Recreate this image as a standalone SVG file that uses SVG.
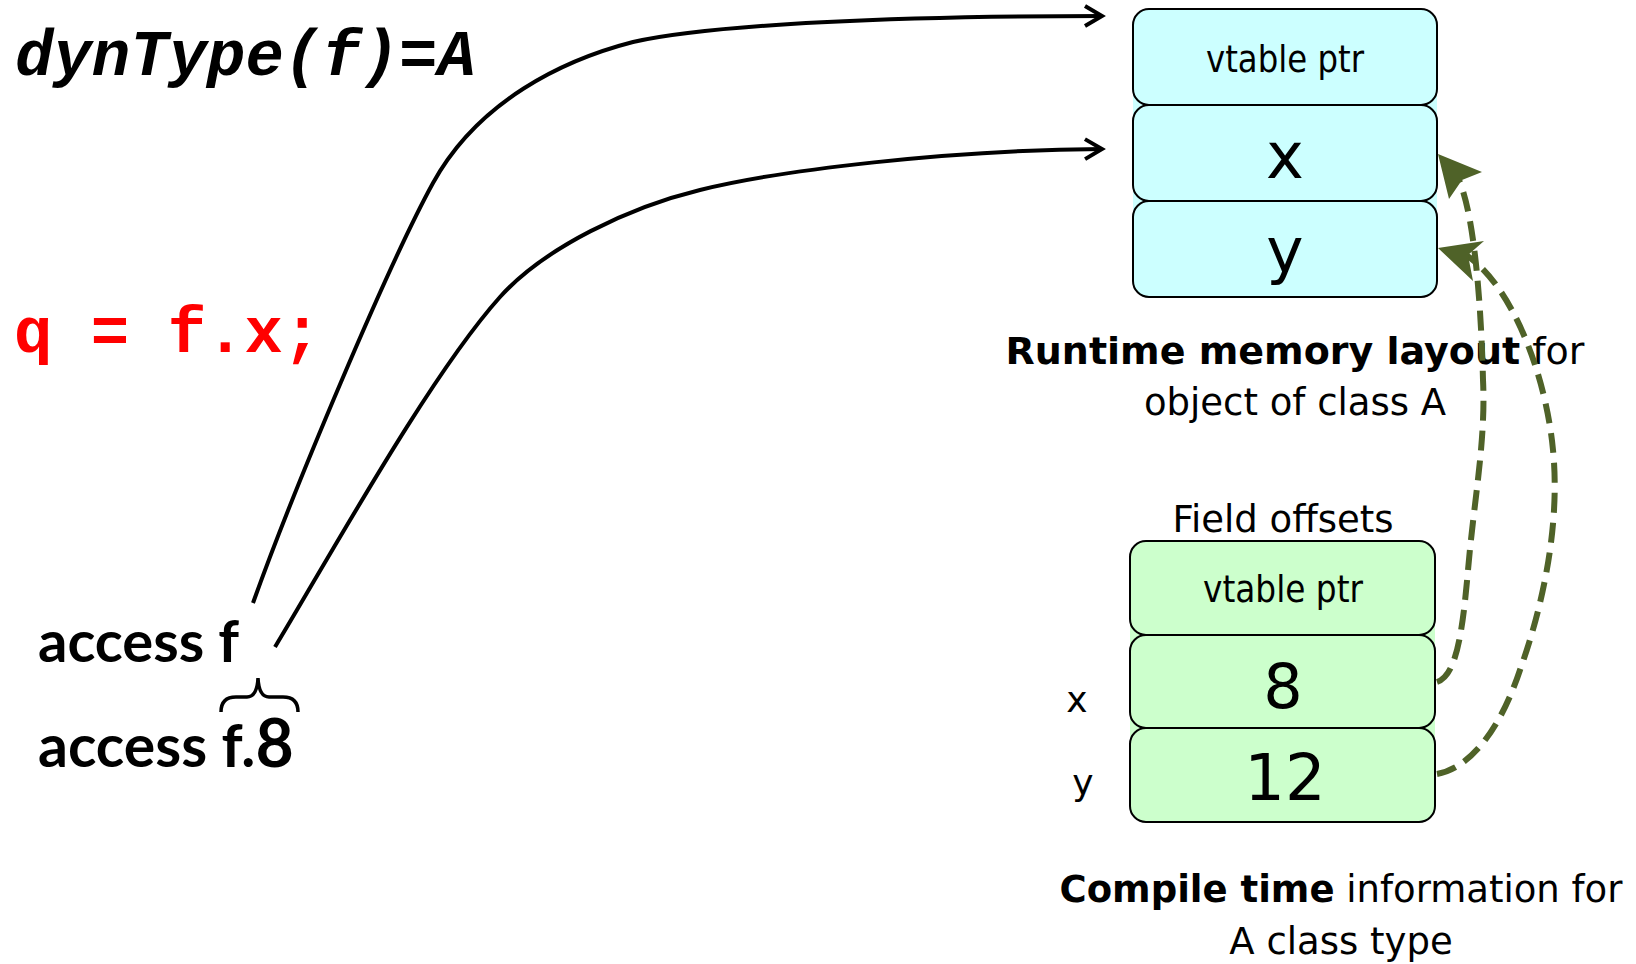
<svg xmlns="http://www.w3.org/2000/svg" width="1636" height="964" viewBox="0 0 1636 964">
  <style>
    .mono { font-family: "Liberation Mono", "Courier New", monospace; font-weight: bold; }
    .sans { font-family: "DejaVu Sans", "Verdana", sans-serif; fill: #000; }
    .narrow { font-family: "DejaVu Sans Condensed", "DejaVu Sans", sans-serif; font-stretch: condensed; fill: #000; }
    .cal { font-family: "Lato", "Open Sans", sans-serif; font-weight: bold; fill: #000; }
    .row-rt { fill: #CCFFFF; stroke: #000; stroke-width: 2; }
    .row-ct { fill: #CCFFCC; stroke: #000; stroke-width: 2; }
    .bg-rt { fill: #CCFFFF; stroke: none; }
    .bg-ct { fill: #CCFFCC; stroke: none; }
    .ptr { fill: none; stroke: #000; stroke-width: 4; marker-end: url(#open-arrow); }
    .offs { fill: none; stroke: #4F6228; stroke-width: 6; stroke-dasharray: 20 10; }
    .ohead { fill: #4F6228; stroke: none; }
  </style>
  <defs>
    <marker id="open-arrow" markerUnits="userSpaceOnUse" markerWidth="24" markerHeight="24" refX="0" refY="0" orient="auto" overflow="visible">
      <path d="M-17,-10 L0,0 L-17,10" fill="none" stroke="#000" stroke-width="4" stroke-linejoin="miter"/>
    </marker>
  </defs>

  <rect width="1636" height="964" fill="#FFFFFF"/>

  <g id="label-dyntype">
    <text class="mono" x="15" y="75" font-size="64" font-style="italic" fill="#000">dynType(f)=A</text>
  </g>
  <g id="label-code">
    <text class="mono" x="14" y="352" font-size="64" fill="#FF0000">q = f.x;</text>
  </g>

  <g id="access-f">
    <text class="cal" x="38" y="662" font-size="58">access f</text>
  </g>
  <g id="access-f8">
    <text class="cal" x="38" y="767" font-size="59">access f.<tspan font-size="66">8</tspan></text>
  </g>
  <g id="brace">
    <path d="M221,712 Q221,697 236,697 L247,697 Q257,697 258,678 Q259,697 269,697 L283,697 Q298,697 298,712" fill="none" stroke="#000" stroke-width="3.5"/>
  </g>

  <g id="runtime-layout">
    <rect class="bg-rt" x="1133" y="25" width="304" height="256"/>
    <g id="rt-vtable">
      <rect class="row-rt" x="1133" y="9" width="304" height="96" rx="16"/>
      <text class="narrow" x="1285" y="72" font-size="38" text-anchor="middle" textLength="158" lengthAdjust="spacingAndGlyphs">vtable ptr</text>
    </g>
    <g id="rt-x">
      <rect class="row-rt" x="1133" y="105" width="304" height="96" rx="16"/>
      <text class="sans" x="1285" y="178" font-size="64" text-anchor="middle">x</text>
    </g>
    <g id="rt-y">
      <rect class="row-rt" x="1133" y="201" width="304" height="96" rx="16"/>
      <text class="sans" x="1285" y="272" font-size="63" text-anchor="middle">y</text>
    </g>
  </g>

  <g id="runtime-caption">
    <text class="sans" x="1295" y="364" font-size="38" text-anchor="middle"><tspan font-weight="bold">Runtime memory layout</tspan> for</text>
    <text class="sans" x="1295" y="415" font-size="37" text-anchor="middle">object of class A</text>
  </g>

  <g id="field-offsets">
    <text class="sans" x="1283" y="532" font-size="37" text-anchor="middle">Field offsets</text>
    <rect class="bg-ct" x="1130" y="557" width="305" height="249"/>
    <g id="fo-vtable">
      <rect class="row-ct" x="1130" y="541" width="305" height="94" rx="16"/>
      <text class="narrow" x="1283" y="602" font-size="38" text-anchor="middle" textLength="160" lengthAdjust="spacingAndGlyphs">vtable ptr</text>
    </g>
    <g id="fo-x">
      <rect class="row-ct" x="1130" y="635" width="305" height="93" rx="16"/>
      <text class="sans" x="1283" y="708" font-size="62" text-anchor="middle">8</text>
    </g>
    <g id="fo-y">
      <rect class="row-ct" x="1130" y="728" width="305" height="94" rx="16"/>
      <text class="sans" x="1285" y="800" font-size="64" text-anchor="middle">12</text>
    </g>
  </g>

  <g id="field-labels">
    <text class="sans" x="1077" y="712" font-size="36" text-anchor="middle">x</text>
    <text class="sans" x="1083" y="795" font-size="36" text-anchor="middle">y</text>
  </g>

  <g id="compile-caption">
    <text class="sans" x="1341" y="902" font-size="37" text-anchor="middle"><tspan font-weight="bold">Compile time</tspan> information for</text>
    <text class="sans" x="1341" y="954" font-size="37" text-anchor="middle">A class type</text>
  </g>

  <g id="connectors">
    <path class="ptr" d="M253,603 C293,491 388,265 433,183 C478,101 563,60 633,42 C713,24 900,16 1102,16"/>
    <path class="ptr" d="M275,647 C330,556 430,375 500,297 C545,247 630,207 700,190 C780,170 950,150 1102,149"/>
    <path class="offs" d="M1437,682 C1455,676 1462,640 1468,570 C1474,500 1486,440 1483,380 C1481,300 1474,215 1459,180"/>
    <polygon class="ohead" points="1438,154 1482,172 1462,180 1449,199"/>
    <path class="offs" d="M1437,774 C1470,768 1500,730 1520,670 C1545,600 1560,520 1553,450 C1546,375 1512,285 1466,255"/>
    <polygon class="ohead" points="1438,248 1484,241 1468,255 1473,281"/>
  </g>
</svg>
